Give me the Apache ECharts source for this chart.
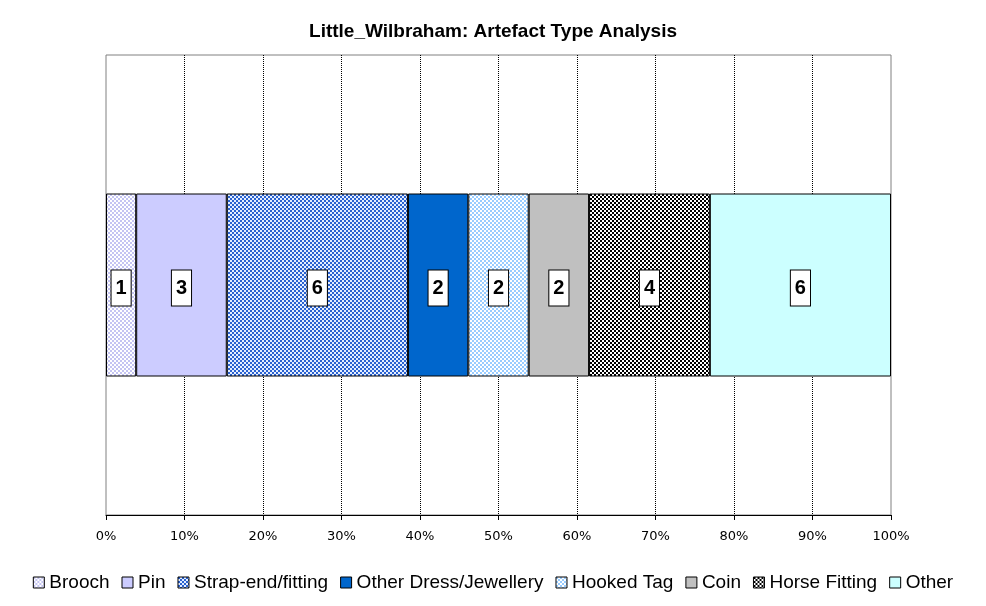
<!DOCTYPE html>
<html>
<head>
<meta charset="utf-8">
<script src="https://cdn.jsdelivr.net/npm/echarts@6/dist/echarts.min.js"></script>
<style>
  html, body { margin: 0; padding: 0; background: #fff; }
  #chart { width: 986px; height: 606px; }
</style>
</head>
<body>
<div id="chart"></div>
<script>
// artefact counts, stacked to 100%
const artefactTypes = ['Brooch', 'Pin', 'Strap-end/fitting', 'Other Dress/Jewellery', 'Hooked Tag', 'Coin', 'Horse Fitting', 'Other']
const artefactCounts = [1, 3, 6, 2, 2, 2, 4, 6]
const xTicks = [0, 10, 20, 30, 40, 50, 60, 70, 80, 90, 100]

// small repeating tiles standing in for the excel fill patterns
function tile (fg, bg) {
  const c = document.createElement('canvas')
  c.width = 4
  c.height = 4
  const ctx = c.getContext('2d')
  ctx.fillStyle = bg
  ctx.fillRect(0, 0, 4, 4)
  ctx.fillStyle = fg
  ctx.fillRect(0, 0, 2, 2)
  ctx.fillRect(2, 2, 2, 2)
  return { image: c, repeat: 'repeat' }
}

const fills = [
  tile('#c4c4f2', '#ffffff'),
  '#ccccff',
  tile('#2a62d0', '#e4eeff'),
  '#0066cc',
  tile('#99ccff', '#ffffff'),
  '#c0c0c0',
  tile('#000000', '#ffffff'),
  '#ccffff'
]

const total = artefactCounts.reduce((a, b) => a + b, 0)

const chart = echarts.init(document.getElementById('chart'))
chart.setOption({
  animation: false,
  title: {
    text: 'Little_Wilbraham: Artefact Type Analysis',
    left: 'center',
    top: 17,
    textStyle: { fontFamily: 'Liberation Sans', fontSize: 19, fontWeight: 'bold', color: '#000' }
  },
  grid: {
    left: 106,
    right: 95,
    top: 55,
    bottom: 91,
    show: true,
    borderColor: '#808080',
    borderWidth: 1,
    backgroundColor: '#fff'
  },
  legend: {
    bottom: 9,
    left: 'center',
    itemWidth: 11,
    itemHeight: 11,
    itemGap: 12,
    itemTextGap: 7,
    icon: 'rect',
    data: artefactTypes.map((name, i) => ({
      name: name,
      itemStyle: { color: fills[i], borderColor: '#000', borderWidth: 1 }
    })),
    textStyle: { fontFamily: 'Liberation Sans', fontSize: 19, color: '#000' }
  },
  xAxis: {
    type: 'value',
    min: 0,
    max: 100,
    interval: 10,
    axisLine: { show: true, lineStyle: { color: '#000', width: 1 } },
    axisTick: { show: true, length: 5, lineStyle: { color: '#000' } },
    axisLabel: {
      formatter: v => xTicks.includes(v) ? v + '%' : '',
      fontFamily: 'DejaVu Sans',
      fontSize: 13,
      color: '#000',
      margin: 15
    },
    splitLine: {
      show: true,
      showMinLine: false,
      showMaxLine: false,
      lineStyle: { type: 'dotted', color: '#000', width: 1 }
    }
  },
  yAxis: {
    type: 'category',
    data: [''],
    show: false
  },
  series: artefactTypes.map((name, i) => ({
    name: name,
    type: 'bar',
    stack: 'all',
    barWidth: 183,
    data: [artefactCounts[i] / total * 100],
    itemStyle: { color: fills[i], borderColor: '#000', borderWidth: 1 },
    label: {
      show: true,
      position: 'inside',
      offset: [0, 3],
      formatter: () => String(artefactCounts[i]),
      fontFamily: 'Liberation Sans',
      fontSize: 20,
      fontWeight: 'bold',
      color: '#000',
      backgroundColor: '#fff',
      borderColor: '#000',
      borderWidth: 1,
      padding: [8, 4, 7, 4]
    }
  }))
})
</script>
</body>
</html>
